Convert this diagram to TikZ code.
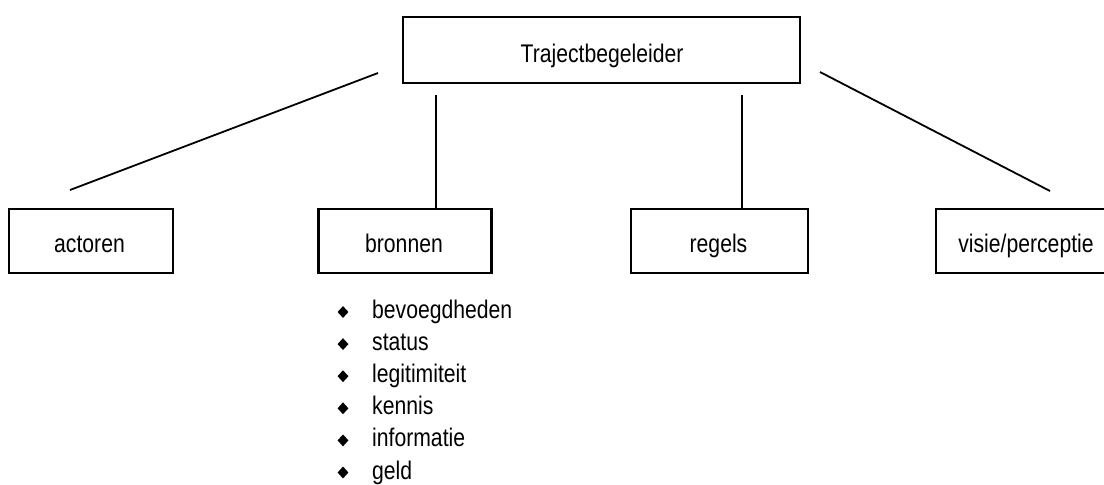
\documentclass[tikz,border=0pt]{standalone}
\usepackage{fontspec}
\setmainfont{Liberation Sans}[FakeStretch=0.83]
\usetikzlibrary{shapes.geometric}
\begin{document}
\begin{tikzpicture}[x=1pt,y=-1pt,
  box/.style={draw=black, line width=2.8pt, inner sep=0pt},
  lbl/.style={anchor=base, inner sep=0pt, font=\fontsize{25.5}{30}\selectfont},
  item/.style={anchor=base west, inner sep=0pt, font=\fontsize{25.5}{30}\selectfont},
  bul/.style={diamond, fill=black, inner sep=0pt, minimum width=11pt, minimum height=12pt},
  conn/.style={line width=1.8pt}]
\useasboundingbox (0,0) rectangle (1104,485);
% boxes
\node[box, minimum width=397pt, minimum height=66pt] (top) at (601.5,50) {};
\node[lbl] (toptxt) at (602,62) {Trajectbegeleider};
\node[box, minimum width=164pt, minimum height=64pt] (act) at (91,241) {};
\node[lbl] (acttxt) at (89.5,252.5) {actoren};
\node[box, minimum width=173pt, minimum height=64pt] (bro) at (405,241) {};
\node[lbl] (brotxt) at (404,252.5) {bronnen};
\node[box, minimum width=177pt, minimum height=64pt] (reg) at (719.5,241) {};
\node[lbl] (regtxt) at (718.5,252.5) {regels};
\node[box, minimum width=180pt, minimum height=64pt] (vis) at (1026,241) {};
\node[lbl] (vistxt) at (1026,252.5) {visie/perceptie};
% connector ends
\coordinate (l1a) at (378,73);
\coordinate (l1b) at (70,190);
\coordinate (l2a) at (436,95);
\coordinate (l3a) at (742,95);
\coordinate (l4a) at (820,72);
\coordinate (l4b) at (1050,191);
\draw[conn] (l1a) -- (l1b);
\draw[conn] (l2a) -- (l2a |- bro.north);
\draw[conn] (l3a) -- (l3a |- reg.north);
\draw[conn] (l4a) -- (l4b);
% list
\foreach \t [count=\i from 0] in {bevoegdheden,status,legitimiteit,kennis,informatie,geld}{
  \node[bul] (b\i) at (343,312+32.1*\i) {};
  \node[item] (t\i) at (372,318.5+32.1*\i) {\t};
}
\end{tikzpicture}
\end{document}
